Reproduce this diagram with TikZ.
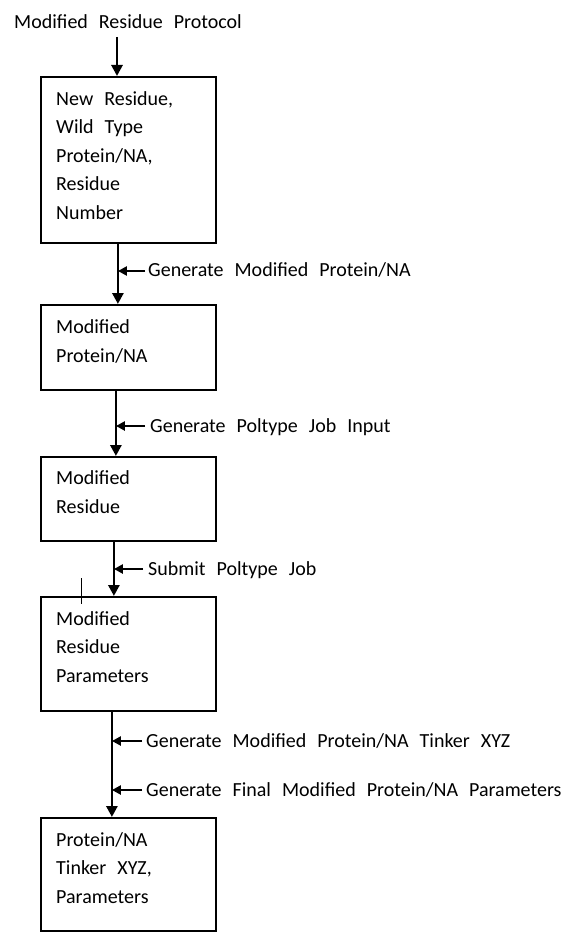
\documentclass[tikz,border=0pt]{standalone}
\usepackage{fontspec}
\setmainfont{Carlito}
\usetikzlibrary{arrows.meta}
\newcommand{\dfont}{\fontsize{20}{28.5}\selectfont\spaceskip=11pt\relax}
\begin{document}
\begin{tikzpicture}[x=1pt,y=-1pt,
  box/.style={draw,line width=1.8pt,minimum width=175pt,anchor=north west,inner sep=0pt},
  txt/.style={anchor=base west,inner sep=0pt,align=left,font=\dfont},
  lab/.style={anchor=base west,inner sep=0pt,font=\dfont},
  flow/.style={line width=2.8pt,-{Triangle[width=11pt,length=11pt]}},
  side/.style={line width=2.6pt,-{Triangle[width=9pt,length=9pt]}}]
\useasboundingbox (0,0) rectangle (568,947);
\node[lab] (title) at (14,29) {Modified Residue Protocol};
\node[box,minimum height=166pt] (b1) at (40,76) {};
\node[box,minimum height=85pt] (b2) at (40,304) {};
\node[box,minimum height=84pt] (b3) at (40,456) {};
\node[box,minimum height=114pt] (b4) at (40,596) {};
\node[box,minimum height=113pt] (b5) at (40,817) {};
\node[txt] (t1) at (56,219) {New Residue,\\Wild Type\\Protein/NA,\\Residue\\Number};
\node[txt] (t2) at (56,362) {Modified\\Protein/NA};
\node[txt] (t3) at (56,513) {Modified\\Residue};
\node[txt] (t4) at (56,682) {Modified\\Residue\\Parameters};
\node[txt] (t5) at (56,903) {Protein/NA\\Tinker XYZ,\\Parameters};
\node[lab] (l1) at (148,276) {Generate Modified Protein/NA};
\node[lab] (l2) at (150,432) {Generate Poltype Job Input};
\node[lab] (l3) at (148,575) {Submit Poltype Job};
\node[lab] (l4) at (146,747) {Generate Modified Protein/NA Tinker XYZ};
\node[lab] (l5) at (146,796) {Generate Final Modified Protein/NA Parameters};
\coordinate (top) at (117,37);
\draw[flow] (top) -- (top |- b1.north);
\draw[flow] ([xshift=-10.5pt]b1.south) coordinate (m1) -- ([xshift=-10.5pt]b2.north);
\draw[flow] ([xshift=-12.5pt]b2.south) coordinate (m2) -- ([xshift=-12.5pt]b3.north);
\draw[flow] ([xshift=-14.5pt]b3.south) coordinate (m3) -- ([xshift=-14.5pt]b4.north);
\draw[flow] ([xshift=-16.5pt]b4.south) coordinate (m4) -- ([xshift=-16.5pt]b5.north);
\coordinate (s1) at (145,271);
\coordinate (s2) at (145,426);
\coordinate (s3) at (143,569);
\coordinate (s4) at (142,741);
\coordinate (s5) at (142,790);
\draw[side] (s1) -- (s1 -| m1);
\draw[side] (s2) -- (s2 -| m2);
\draw[side] (s3) -- (s3 -| m3);
\draw[side] (s4) -- (s4 -| m4);
\draw[side] (s5) -- (s5 -| m4);
\draw[line width=0.8pt] (81,578) -- (81,604);
\end{tikzpicture}
\end{document}
